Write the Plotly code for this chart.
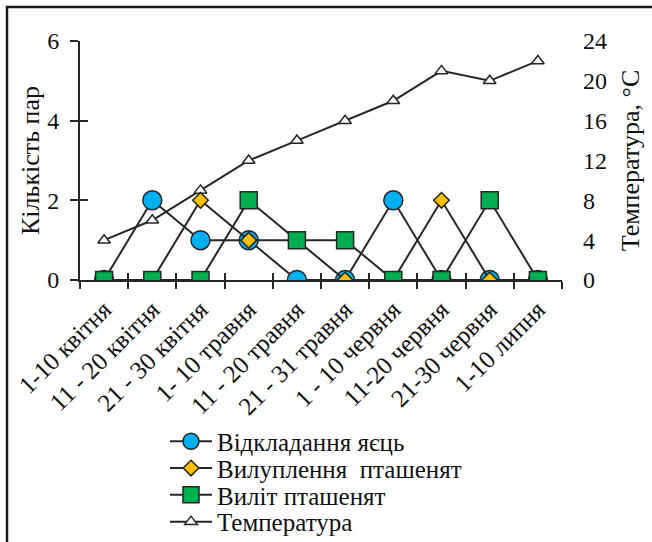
import plotly.graph_objects as go

categories = ["1-10 квітня", "11 - 20 квітня", "21 - 30 квітня", "1- 10 травня",
              "11 - 20 травня", "21 - 31 травня", "1 - 10 червня", "11-20 червня",
              "21-30 червня", "1-10 липня"]
eggs = [0, 2, 1, 1, 0, 0, 2, 0, 0, 0]
hatching = [0, 0, 2, 1, 1, 0, 0, 2, 0, 0]
fledging = [0, 0, 0, 2, 1, 1, 0, 0, 2, 0]
temperature = [4, 6, 9, 12, 14, 16, 18, 21, 20, 22]

W, H = 652, 542
L, R, T, B = 80, 562, 41, 280  # plot area in px
FONT = "Liberation Serif, Times New Roman, serif"
LINE = "#262626"
TXT = "#111111"
FS = 24


def px(x):
    return (x - L) / (R - L)


def py(y):
    return (B - y) / (B - T)


fig = go.Figure()

# temperature on the primary (right-hand) axis, drawn below the count series
fig.add_trace(go.Scatter(
    x=categories, y=temperature, name="Температура", yaxis="y",
    legend="legend4",
    mode="lines+markers", line=dict(color=LINE, width=2),
    marker=dict(symbol="triangle-up", size=11, color="white",
                line=dict(color=LINE, width=1.5))))

series = [
    ("Відкладання яєць", eggs, "circle", 19, "#00B0F0", "legend"),
    ("Вилуплення  пташенят", hatching, "diamond", 12, "#FFC000", "legend2"),
    ("Виліт пташенят", fledging, "square", 17, "#00B050", "legend3"),
]
for name, vals, sym, size, color, leg in series:
    fig.add_trace(go.Scatter(
        x=categories, y=vals, name=name, yaxis="y2", legend=leg,
        mode="lines+markers", line=dict(color=LINE, width=2),
        marker=dict(symbol=sym, size=size, color=color,
                    line=dict(color=LINE, width=1.5))))

# invisible helper traces so the tick-only helper axes are rendered
fig.add_trace(go.Scatter(x=[categories[0]], y=[None], yaxis="y3",
                         showlegend=False, hoverinfo="skip", mode="markers"))
fig.add_trace(go.Scatter(x=[0], y=[None], xaxis="x2", yaxis="y",
                         showlegend=False, hoverinfo="skip", mode="markers"))

legend_rows = [441.5, 468.3, 495.1, 521.9]
leg_common = dict(x=px(165), xanchor="left", yanchor="middle",
                  font=dict(size=25, family=FONT, color=TXT),
                  bgcolor="rgba(0,0,0,0)", itemwidth=42, borderwidth=0)
legends = {}
for i, key in enumerate(["legend", "legend2", "legend3", "legend4"]):
    legends[key] = dict(leg_common, y=py(legend_rows[i]))

fig.update_layout(
    width=W, height=H,
    margin=dict(l=L, r=W - R, t=T, b=H - B, pad=0, autoexpand=False),
    paper_bgcolor="white", plot_bgcolor="rgba(0,0,0,0)",
    font=dict(family=FONT, size=FS, color=TXT),
    showlegend=True,
    **legends,
    xaxis=dict(
        type="category", categoryorder="array", categoryarray=categories,
        range=[-0.5, 9.5], tickson="boundaries",
        showline=True, linecolor=LINE, linewidth=2,
        ticks="outside", ticklen=7, tickwidth=2, tickcolor=LINE,
        tickangle=-45, tickfont=dict(size=25, family=FONT),
        ticklabelstandoff=3,
        showgrid=False, zeroline=False, automargin=False, anchor="y"),
    xaxis2=dict(
        overlaying="x", anchor="y", range=[-0.5, 9.5], tick0=-0.5, dtick=1,
        ticks="inside", ticklen=7, tickwidth=2, tickcolor=LINE,
        showticklabels=False, showline=False, showgrid=False,
        zeroline=False, automargin=False),
    yaxis=dict(
        side="right", anchor="x", range=[0, 24], dtick=4,
        showline=False, ticks="", showgrid=False, zeroline=False,
        tickfont=dict(size=FS, family=FONT), ticklabelstandoff=20,
        automargin=False,
        title=dict(text="Температура, °С", font=dict(size=26, family=FONT),
                   standoff=14)),
    yaxis2=dict(
        overlaying="y", side="left", anchor="x", range=[0, 6], dtick=2,
        showline=True, linecolor=LINE, linewidth=2,
        ticks="outside", ticklen=8, tickwidth=2, tickcolor=LINE,
        tickfont=dict(size=FS, family=FONT), ticklabelstandoff=6,
        showgrid=False, zeroline=False, automargin=False,
        title=dict(text="Кількість пар", font=dict(size=26, family=FONT),
                   standoff=0)),
    yaxis3=dict(
        overlaying="y", side="left", anchor="x", range=[0, 6], dtick=2,
        ticks="inside", ticklen=8, tickwidth=2, tickcolor=LINE,
        showticklabels=False, showline=False, showgrid=False,
        zeroline=False, automargin=False),
    shapes=[dict(
        type="path", xref="paper", yref="paper",
        path=f"M {px(7)},{py(H + 5)} L {px(7)},{py(7)} L {px(W + 5)},{py(7)}",
        line=dict(color="#1a1a1a", width=2.5))],
)

fig.write_html("out.html", config={"displayModeBar": False},
               post_script="document.body.style.margin='0';")
